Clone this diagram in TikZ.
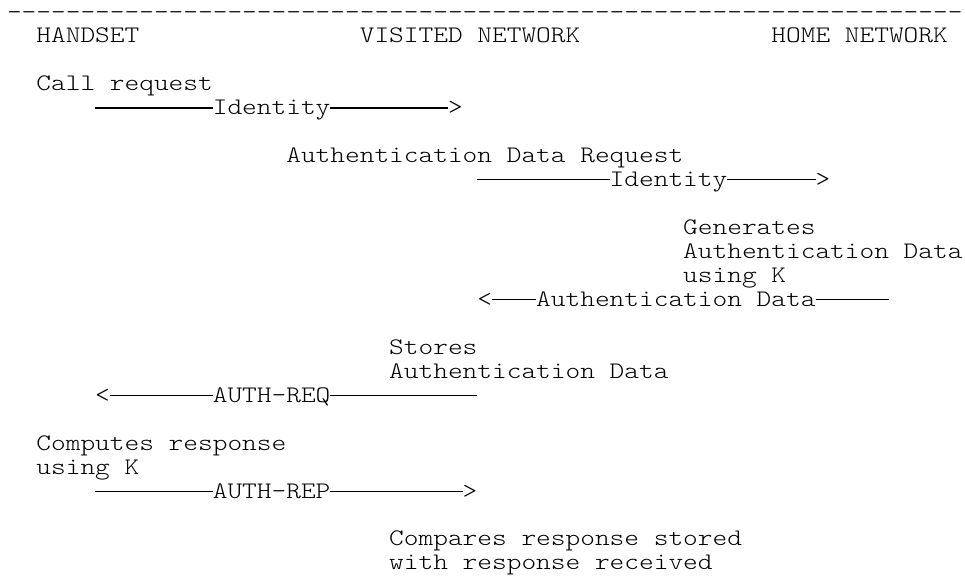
\documentclass[tikz,border=0pt]{standalone}
\usepackage{fontspec}
\setmonofont{lmmonolt10-regular.otf}[FakeStretch=1.18]
\newcommand{\colx}[1]{(7+14.7*(#1))}
\newcommand{\rowy}[1]{(43+23.95*((#1)-1))}
\newcommand{\hy}{-{}-{}-{}-{}-{}}
\begin{document}
\begin{tikzpicture}[x=1pt,y=-1pt,
  txt/.style={anchor=base west,inner sep=0pt,outer sep=0pt,
    font=\ttfamily\fontsize{23.73}{24}\selectfont,text=black},
  conn/.style={line width=1.2pt,draw=black}]
\useasboundingbox (0,0) rectangle (965,585);
% header
\node[txt] (rule) at ({\colx{0}},{\rowy{0}}) {\hy\hy\hy\hy\hy\hy\hy\hy\hy\hy\hy\hy\hy};
\node[txt] (hs) at ({\colx{2}},{\rowy{1}}) {HANDSET};
\node[txt] (vn) at ({\colx{24}},{\rowy{1}}) {VISITED NETWORK};
\node[txt] (hn) at ({\colx{52}},{\rowy{1}}) {HOME NETWORK};
% call request
\node[txt] (cr) at ({\colx{2}},{\rowy{3}}) {Call request};
\coordinate (s4) at ({\colx{6}},{\rowy{4}-6.8});
\node[txt] (id1) at ({\colx{14}},{\rowy{4}}) {Identity};
\node[txt] (gt1) at ({\colx{30}},{\rowy{4}}) {>};
\draw[conn] (s4) -- (s4 -| id1.west);
\draw[conn] (s4 -| id1.east) -- (s4 -| gt1.west);
% authentication data request
\node[txt] (adr) at ({\colx{19}},{\rowy{6}}) {Authentication Data Request};
\coordinate (s7) at ({\colx{32}},{\rowy{7}-6.8});
\node[txt] (id2) at ({\colx{41}},{\rowy{7}}) {Identity};
\node[txt] (gt2) at ({\colx{55}},{\rowy{7}}) {>};
\draw[conn] (s7) -- (s7 -| id2.west);
\draw[conn] (s7 -| id2.east) -- (s7 -| gt2.west);
% generates
\node[txt] (g1) at ({\colx{46}},{\rowy{9}}) {Generates};
\node[txt] (g2) at ({\colx{46}},{\rowy{10}}) {Authentication Data};
\node[txt] (g3) at ({\colx{46}},{\rowy{11}}) {using K};
\node[txt] (lt2) at ({\colx{32}},{\rowy{12}}) {<};
\node[txt] (ad) at ({\colx{36}},{\rowy{12}}) {Authentication Data};
\coordinate (e12) at ({\colx{60}},{\rowy{12}-6.8});
\draw[conn] (e12 -| lt2.east) -- (e12 -| ad.west);
\draw[conn] (e12 -| ad.east) -- (e12);
% stores
\node[txt] (st1) at ({\colx{26}},{\rowy{14}}) {Stores};
\node[txt] (st2) at ({\colx{26}},{\rowy{15}}) {Authentication Data};
\node[txt] (lt3) at ({\colx{6}},{\rowy{16}}) {<};
\node[txt] (req) at ({\colx{14}},{\rowy{16}}) {AUTH-REQ};
\coordinate (e16) at ({\colx{32}},{\rowy{16}-6.8});
\draw[conn] (e16 -| lt3.east) -- (e16 -| req.west);
\draw[conn] (e16 -| req.east) -- (e16);
% computes
\node[txt] (cp1) at ({\colx{2}},{\rowy{18}}) {Computes response};
\node[txt] (cp2) at ({\colx{2}},{\rowy{19}}) {using K};
\coordinate (s20) at ({\colx{6}},{\rowy{20}-6.8});
\node[txt] (rep) at ({\colx{14}},{\rowy{20}}) {AUTH-REP};
\node[txt] (gt3) at ({\colx{31}},{\rowy{20}}) {>};
\draw[conn] (s20) -- (s20 -| rep.west);
\draw[conn] (s20 -| rep.east) -- (s20 -| gt3.west);
% compares
\node[txt] (cm1) at ({\colx{26}},{\rowy{22}}) {Compares response stored};
\node[txt] (cm2) at ({\colx{26}},{\rowy{23}}) {with response received};
\end{tikzpicture}
\end{document}
